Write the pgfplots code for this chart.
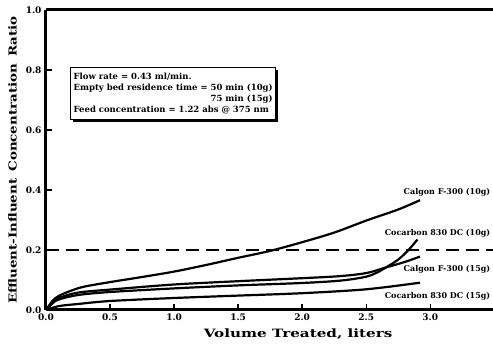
\documentclass[border=0pt]{standalone}
\usepackage{fontspec}
\setmainfont{DejaVu Serif}
\newfontfamily\widefont[FakeStretch=1.22]{DejaVu Serif}
\newfontfamily\widerfont[FakeStretch=1.32]{DejaVu Serif}
\usepackage{pgfplots}
\pgfplotsset{compat=1.18}
\usetikzlibrary{shadows}

\begin{document}
\begin{tikzpicture}
\begin{axis}[
  scale only axis, width=447pt, height=300pt,
  xmin=0, xmax=3.49, ymin=0, ymax=1,
  axis x line*=bottom, axis y line*=left,
  axis line style={line width=3pt, -},
  clip=false,
  tick align=inside,
  major tick length=6pt,
  every tick/.style={line width=1.4pt, black},
  xtick={0,0.5,1.0,1.5,2.0,2.5,3.0},
  ytick={0,0.2,0.4,0.6,0.8,1.0},
  /pgf/number format/assume math mode=true,
  /pgf/number format/fixed, /pgf/number format/fixed zerofill,
  /pgf/number format/precision=1,
  tick label style={font=\fontsize{9}{10}\selectfont\bfseries},
  yticklabel style={xshift=-1pt},
  ylabel={Effluent-Influent\hspace{7pt}Concentration\hspace{7pt}Ratio},
  ylabel style={font=\fontsize{11}{13}\widefont\bfseries, at={(axis description cs:-0.075,0.5)}, anchor=center},
  xlabel={Volume Treated, liters},
  xlabel style={font=\fontsize{11.5}{13}\widerfont\bfseries, at={(axis description cs:0.564,0)}, anchor=center, yshift=-24pt},
]
% top border of the frame
\draw[line width=3pt] (rel axis cs:0,1) -- (rel axis cs:1,1);

% 0.2 breakthrough criterion
\addplot[black, line width=2pt, dash pattern=on 13pt off 7pt] coordinates {(0,0.2) (3.49,0.2)};

% Calgon F-300 (10g)
\addplot[black, line width=2.2pt, smooth] coordinates {
(0,0) (0.05,0.03) (0.1,0.047) (0.2,0.065) (0.3,0.078) (0.5,0.093) (0.75,0.11)
(1.0,0.128) (1.25,0.15) (1.5,0.174) (1.75,0.197) (2.0,0.226) (2.25,0.258)
(2.5,0.298) (2.75,0.335) (2.92,0.366)};

% Calgon F-300 (15g)
\addplot[black, line width=2.2pt, smooth] coordinates {
(0,0) (0.05,0.025) (0.1,0.04) (0.25,0.058) (0.5,0.068) (1.0,0.085) (1.5,0.096)
(2.0,0.106) (2.3,0.113) (2.5,0.123) (2.64,0.14) (2.8,0.16) (2.92,0.178)};

% Cocarbon 830 DC (10g)
\addplot[black, line width=2.2pt, smooth] coordinates {
(0,0) (0.05,0.022) (0.1,0.035) (0.25,0.05) (0.5,0.06) (1.0,0.072) (1.5,0.082)
(2.0,0.09) (2.3,0.098) (2.5,0.111) (2.6,0.128) (2.64,0.138) (2.75,0.168)
(2.83,0.2) (2.9,0.235)};

% Cocarbon 830 DC (15g)
\addplot[black, line width=2.2pt, smooth] coordinates {
(0,0) (0.1,0.013) (0.25,0.02) (0.5,0.03) (1.0,0.04) (1.5,0.048) (2.0,0.056)
(2.5,0.069) (2.92,0.091)};

\begin{scope}[every node/.style={font=\fontsize{8}{9}\selectfont\bfseries, anchor=east, inner sep=0pt}]
\node at (axis cs:3.47,0.392) {Calgon F-300 (10g)};
\node at (axis cs:3.47,0.255) {Cocarbon 830 DC (10g)};
\node at (axis cs:3.47,0.136) {Calgon F-300 (15g)};
\node at (axis cs:3.47,0.047) {Cocarbon 830 DC (15g)};
\end{scope}

\node[draw, line width=1.2pt, fill=white, anchor=north west, inner xsep=3pt, inner ysep=4pt,
  general shadow={fill=black, shadow xshift=2.5pt, shadow yshift=-2.5pt},
  font=\fontsize{8.5}{11}\selectfont\bfseries]
  at (axis cs:0.1875,0.809)
  {\begin{tabular}{@{}l@{}}
   Flow rate = 0.43 ml/min.\\
   Empty bed residence time = 50 min (10g)\\
   \multicolumn{1}{@{}r@{}}{75 min (15g)}\\
   Feed concentration = 1.22 abs @ 375 nm
   \end{tabular}};
\end{axis}
\pgfresetboundingbox
\useasboundingbox (-46pt,-34pt) rectangle (447pt,310pt);
\end{tikzpicture}
\end{document}
